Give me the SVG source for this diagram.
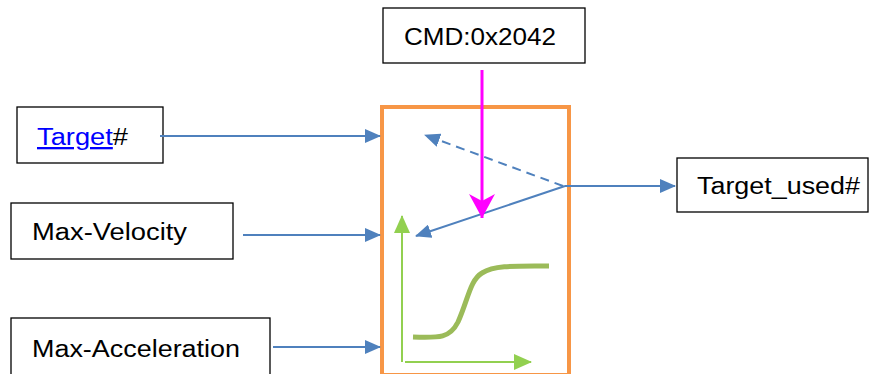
<svg xmlns="http://www.w3.org/2000/svg" width="871" height="374" viewBox="0 0 871 374">
<style>
.box{fill:#fff;stroke:#000;stroke-width:1.3}
.t{font-family:"Liberation Sans",Arial,sans-serif;font-size:23px;fill:#000}
.blue{stroke:#4F81BD;stroke-width:2;fill:none}
.green{stroke:#92D050;stroke-width:2;fill:none}
</style>
<defs>
<marker id="ab" markerUnits="userSpaceOnUse" markerWidth="16" markerHeight="14" refX="15" refY="7" orient="auto" viewBox="0 0 16 14"><path d="M0,0 L16,7 L0,14 Z" fill="#4F81BD"/></marker>
<marker id="ag" markerUnits="userSpaceOnUse" markerWidth="18" markerHeight="16" refX="17" refY="8" orient="auto" viewBox="0 0 18 16"><path d="M0,0 L18,8 L0,16 Z" fill="#92D050"/></marker>
<marker id="am" markerUnits="userSpaceOnUse" markerWidth="26" markerHeight="28" refX="24" refY="13" orient="auto" viewBox="0 0 26 26"><path d="M0,0 L24,13 L0,26 L7,13 Z" fill="#FF00FF"/></marker>
</defs>
<g id="block">
<rect x="382" y="107" width="187" height="268" fill="none" stroke="#F79646" stroke-width="4"/>
<path d="M413,337 C440,338 450,338 458,322 C468,300 470,280 482,273 C495,265 515,266 549,266" stroke="#9BBB59" stroke-width="5" fill="none"/>
</g>
<g id="n-target"><rect class="box" x="17" y="107" width="146" height="56"/><text class="t" x="37" y="145" textLength="91" lengthAdjust="spacingAndGlyphs"><tspan fill="#0000FF" text-decoration="underline">Target</tspan>#</text></g>
<g id="n-vel"><rect class="box" x="11" y="203" width="222" height="56"/><text class="t" x="32" y="240" textLength="155" lengthAdjust="spacingAndGlyphs">Max-Velocity</text></g>
<g id="n-acc"><rect class="box" x="11" y="318" width="259" height="60"/><text class="t" x="32" y="357" textLength="208" lengthAdjust="spacingAndGlyphs">Max-Acceleration</text></g>
<g id="n-cmd"><rect class="box" x="383" y="8" width="202" height="55"/><text class="t" x="404" y="45" textLength="152" lengthAdjust="spacingAndGlyphs">CMD:0x2042</text></g>
<g id="n-used"><rect class="box" x="677" y="158" width="191" height="54"/><text class="t" x="697" y="194" textLength="163" lengthAdjust="spacingAndGlyphs">Target_used#</text></g>
<g id="connectors">
<line class="blue" x1="160" y1="136" x2="380" y2="136" marker-end="url(#ab)"/>
<line class="blue" x1="243" y1="235" x2="380" y2="235" marker-end="url(#ab)"/>
<line class="blue" x1="273" y1="347" x2="380" y2="347" marker-end="url(#ab)"/>
<line class="blue" x1="565" y1="186" x2="675" y2="186" marker-end="url(#ab)"/>
<line class="blue" x1="565" y1="186" x2="416" y2="236" marker-end="url(#ab)"/>
<line class="blue" x1="563" y1="186" x2="425" y2="135" stroke-dasharray="9,6" marker-end="url(#ab)"/>
<line x1="482" y1="70" x2="482" y2="218" stroke="#FF00FF" stroke-width="3" marker-end="url(#am)"/>
<line class="green" x1="402" y1="362" x2="402" y2="216" marker-end="url(#ag)"/>
<line class="green" x1="405" y1="362" x2="531" y2="362" marker-end="url(#ag)"/>
</g>
</svg>
